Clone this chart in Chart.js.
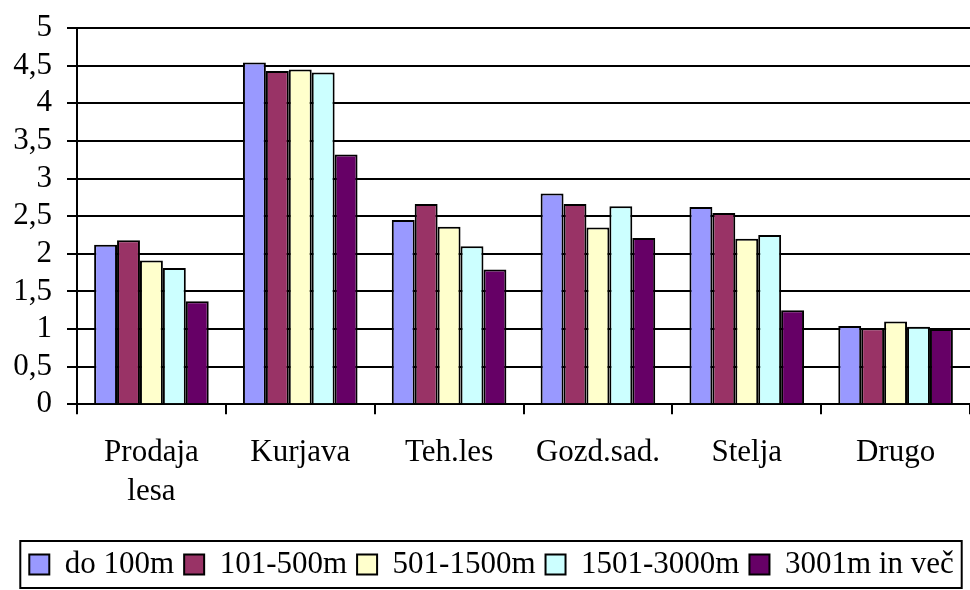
<!DOCTYPE html>
<html>
<head>
<meta charset="utf-8">
<script src="https://cdn.jsdelivr.net/npm/chart.js@4.4.1/dist/chart.umd.min.js"></script>
<style>
    html, body { margin: 0; padding: 0; background: #fff; overflow: hidden; }
    #wrap { width: 970px; height: 590px; position: relative; }
</style>
</head>
<body>
<div id="wrap"><canvas id="chart" width="970" height="590"></canvas></div>
<script>
// Chart data
const categories = [['Prodaja', 'lesa'], 'Kurjava', 'Teh.les', 'Gozd.sad.', 'Stelja', 'Drugo'];
const seriesNames = ['do 100m', '101-500m', '501-1500m', '1501-3000m', '3001m in več'];
const do100 = [2.12, 4.54, 2.45, 2.80, 2.62, 1.04];
const od101do500 = [2.18, 4.43, 2.66, 2.66, 2.54, 1.01];
const od501do1500 = [1.91, 4.45, 2.36, 2.35, 2.20, 1.10];
const od1501do3000 = [1.81, 4.41, 2.10, 2.63, 2.25, 1.03];
const nad3001 = [1.37, 3.32, 1.79, 2.21, 1.25, 1.00];
const yTicks = [0, 0.5, 1, 1.5, 2, 2.5, 3, 3.5, 4, 4.5, 5];

const seriesValues = [do100, od101do500, od501do1500, od1501do3000, nad3001];
const seriesColors = ['#9999FF', '#993366', '#FFFFCC', '#CCFFFF', '#660066'];

const FONT = "'Liberation Serif', 'Times New Roman', serif";
const FONT_SIZE = 31;

// draws the black frame round the legend items
const legendFrame = {
    id: 'legendFrame',
    afterDraw(chart) {
        const boxes = chart.legend && chart.legend.legendHitBoxes;
        if (!boxes || !boxes.length) return;
        const first = boxes[0];
        const last = boxes[boxes.length - 1];
        const mid = first.top + first.height / 2;
        const ctx = chart.ctx;
        ctx.save();
        ctx.strokeStyle = '#000';
        ctx.lineWidth = 2;
        const left = first.left - 9;
        const right = last.left + last.width + 8;
        ctx.strokeRect(left, mid - 23.5, right - left, 47);
        ctx.restore();
    }
};

const datasets = seriesNames.map((name, i) => ({
    label: name,
    data: seriesValues[i],
    backgroundColor: seriesColors[i],
    borderColor: '#000',
    borderWidth: 2,
    borderSkipped: 'bottom',
    barPercentage: 1.0,
    categoryPercentage: 0.77
}));

new Chart(document.getElementById('chart'), {
    type: 'bar',
    data: { labels: categories, datasets: datasets },
    options: {
        responsive: false,
        animation: false,
        layout: { padding: { top: 28, left: 13, right: 0, bottom: 0 } },
        plugins: {
            tooltip: { enabled: false },
            legend: {
                position: 'bottom',
                labels: {
                    font: { family: FONT, size: FONT_SIZE },
                    color: '#000',
                    boxWidth: 20,
                    boxHeight: 20,
                    padding: 10,
                    generateLabels(chart) {
                        return chart.data.datasets.map((ds, i) => ({
                            text: ds.label,
                            fillStyle: ds.backgroundColor,
                            strokeStyle: '#000',
                            lineWidth: 2,
                            datasetIndex: i
                        }));
                    }
                }
            }
        },
        scales: {
            x: {
                afterFit(scale) {
                    scale.height += 8;
                },
                grid: {
                    offset: true,
                    drawOnChartArea: false,
                    drawTicks: true,
                    tickLength: 10,
                    color: '#000',
                    lineWidth: 2
                },
                border: { color: '#000', width: 2 },
                ticks: {
                    font: { family: FONT, size: FONT_SIZE, lineHeight: 1.27 },
                    color: '#000',
                    padding: 19,
                    maxRotation: 0
                }
            },
            y: {
                min: 0,
                max: 5,
                afterBuildTicks(scale) {
                    scale.ticks = yTicks.map(v => ({ value: v }));
                },
                afterFit(scale) {
                    scale.width = 64;
                    scale.paddingTop = 0;
                    scale.paddingBottom = 0;
                },
                grid: {
                    color: '#000',
                    lineWidth: 2,
                    tickLength: 10
                },
                border: { color: '#000', width: 2 },
                ticks: {
                    font: { family: FONT, size: FONT_SIZE },
                    color: '#000',
                    padding: 15,
                    autoSkip: false,
                    callback: v => String(v).replace('.', ',')
                }
            }
        }
    },
    plugins: [legendFrame]
});
</script>
</body>
</html>
